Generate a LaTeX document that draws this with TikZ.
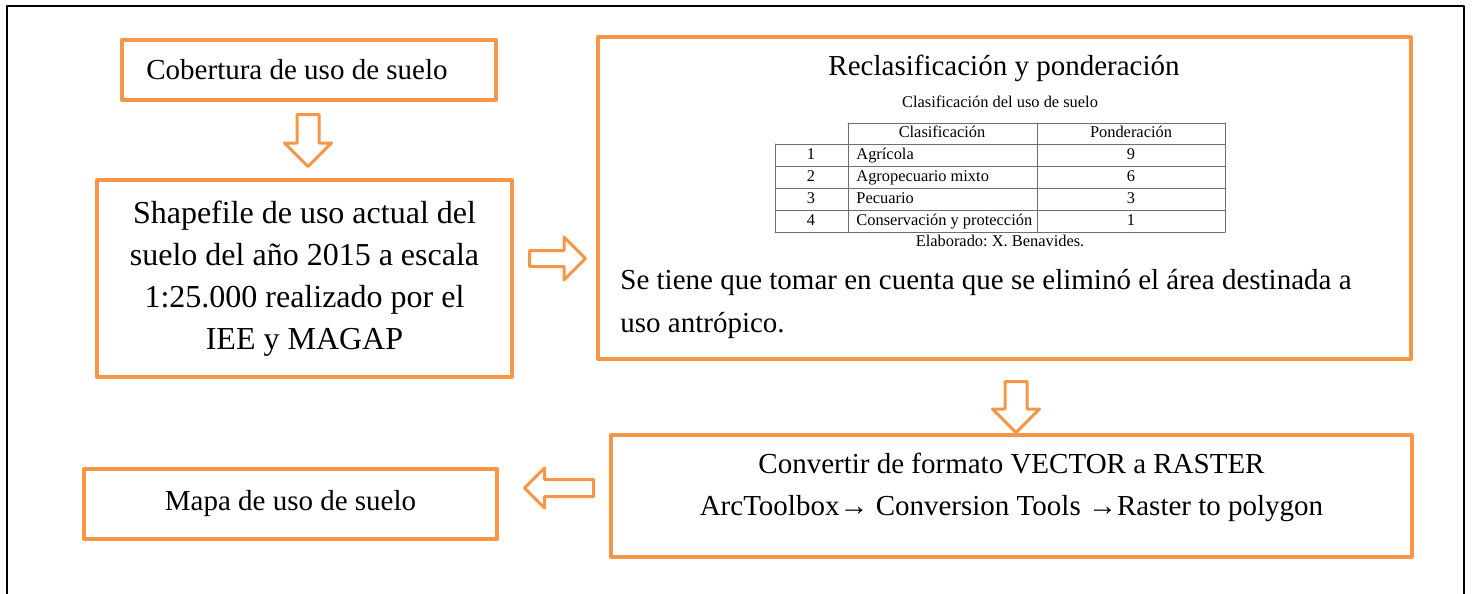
\documentclass[tikz,border=0pt]{standalone}
\usepackage{fontspec}
\setmainfont{Liberation Serif}
\usetikzlibrary{calc,shapes.arrows}
\definecolor{naranja}{HTML}{F79646}
\definecolor{gristabla}{HTML}{6F6F6F}
\frenchspacing

\tikzset{
  caja/.style={draw=naranja,line width=2pt,rectangle,inner sep=0pt},
  flecha/.style={single arrow,draw=naranja,fill=white,line width=1.5pt,inner xsep=0pt,inner ysep=4.75pt,
    text height=0pt,text depth=0pt,minimum width=0pt,single arrow head extend=6.25pt,single arrow tip angle=90,anchor=tail},
  texto/.style={font=\fontsize{14.5}{21}\selectfont,inner sep=0pt},
  chico/.style={font=\fontsize{8.2}{10}\selectfont,inner sep=0pt,text height=5.8pt,text depth=1.8pt},
  tabla/.style={draw=gristabla,line width=0.5pt}
}

\begin{document}
\begin{tikzpicture}[line cap=round,line join=round,x=0.5pt,y=-0.5pt]
\useasboundingbox (0,0) rectangle (1472,594);
% marco
\draw[line width=1pt,line cap=butt] (7,594) -- (7,6) -- (1464,6) -- (1464,594);

% cajas de la izquierda
\node[caja,texto,minimum width=187pt,minimum height=30pt] (cob) at (309,70) {Cobertura de uso de suelo\hspace*{12pt}};
\node[caja,font=\fontsize{16}{21}\selectfont,align=center,minimum width=207.5pt,minimum height=98.5pt] (shp) at (304.5,278.5)
  {Shapefile de uso actual del\\suelo del año 2015 a escala\\1:25.000 realizado por el\\IEE y MAGAP};
\node[caja,texto,minimum width=206.5pt,minimum height=35pt] (map) at (290.5,504) {Mapa de uso de suelo};

% caja de reclasificacion
\node[caja,minimum width=406.5pt,minimum height=161pt] (rec) at (1004.5,198) {};
\node[texto] (tit) at (1004,68) {Reclasificación y ponderación};
\node[chico] (cap) at (1000,103) {Clasificación del uso de suelo};
\draw[tabla] (848,123) -- (1225,123);
\foreach \y in {144,166,188,210,232}
  \draw[tabla] (775,\y) -- (1225,\y);
\draw[tabla] (775,144) -- (775,232);
\foreach \x in {848,1037,1225}
  \draw[tabla] (\x,123) -- (\x,232);
\node[chico] (h1) at (942,133) {Clasificación};
\node[chico] (h2) at (1131,133) {Ponderación};
\foreach \n/\clase/\pond in {1/Agrícola/9,2/Agropecuario mixto/6,3/Pecuario/3,4/Conservación y protección/1}{
  \pgfmathsetmacro\yy{133+22*\n}
  \node[chico] (n\n) at (811,\yy) {\n};
  \node[chico,anchor=west] (c\n) at (856,\yy) {\clase};
  \node[chico] (p\n) at (1131,\yy) {\pond};
}
\node[chico] (elab) at (1000,242) {Elaborado: X. Benavides.};
\node[texto,anchor=west,align=left] (nota) at (620,304)
  {Se tiene que tomar en cuenta que se eliminó el área destinada a\\uso antrópico.};

% caja de conversion
\node[caja,minimum width=400.5pt,minimum height=61pt] (cnv) at (1011.5,496) {};
\node[texto,align=center] (tcnv) at (1011.5,487.5)
  {Convertir de formato VECTOR a RASTER\\ArcToolbox→ Conversion Tools →Raster to polygon};

% flechas
\node[flecha,minimum height=26pt,rotate=-90] (f1) at ($(cob.south)+(-1,11)$) {};
\node[flecha,minimum height=28pt,inner ysep=3.25pt,single arrow head extend=6.75pt] (f2) at ($(shp.east)+(14,-20)$) {};
\node[flecha,minimum height=25.5pt,rotate=-90] (f3) at ($(rec.south)+(11.5,19)$) {};
\node[flecha,minimum height=34.5pt,inner ysep=3.5pt,single arrow head extend=5.75pt,rotate=180] (f4) at ($(cnv.west)+(-14,-8)$) {};
\end{tikzpicture}
\end{document}
